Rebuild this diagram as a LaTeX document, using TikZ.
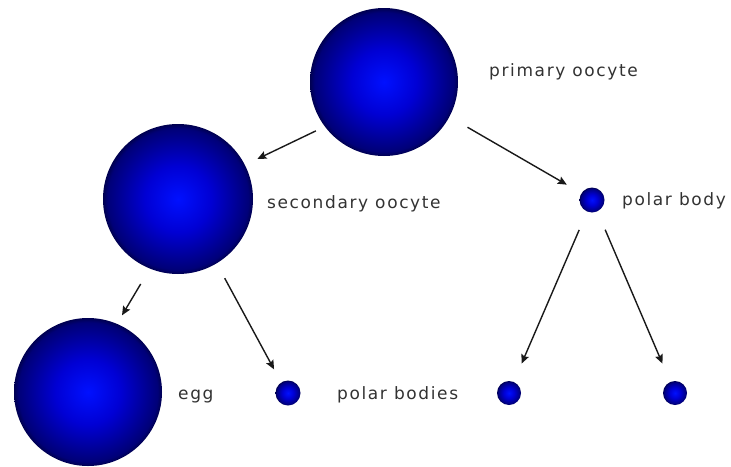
\documentclass[tikz,border=0pt]{standalone}
\usepackage{fontspec}
\setmainfont{DejaVu Sans}[LetterSpace=9.5]
\usetikzlibrary{arrows.meta}
\definecolor{ballA}{RGB}{0,16,255}
\definecolor{ballB}{RGB}{0,0,212}
\definecolor{ballC}{RGB}{0,0,120}
\definecolor{ballD}{RGB}{0,0,80}
\definecolor{txt}{RGB}{50,50,50}
\definecolor{arr}{RGB}{25,25,25}
\pgfdeclareradialshading{ballsh}{\pgfpoint{0bp}{0bp}}{color(0bp)=(ballA); color(11bp)=(ballB); color(23.5bp)=(ballC); color(25bp)=(ballD); color(50bp)=(ballD)}
\begin{document}
\begin{tikzpicture}[x=1pt,y=-1pt,
 ball/.style={circle, inner sep=0pt, outer sep=0pt, minimum size=#1pt, shading=ballsh},
 lbl/.style={anchor=base west, text=txt, font=\fontsize{17}{19}\selectfont, inner sep=0pt},
 conn/.style={draw=arr, line width=1.4pt, -{Stealth[length=9pt,width=8pt,inset=1.5pt]}}]
\useasboundingbox (0,0) rectangle (731,466);
\node[ball=148] (p) at (384,82) {};
\node[ball=150] (s) at (178,199) {};
\node[ball=148] (e) at (88,392) {};
\node[ball=25] (q) at (592,200) {};
\node[ball=25] (b1) at (288,393) {};
\node[ball=24] (b2) at (509,393) {};
\node[ball=24] (b3) at (675,393) {};
\node[lbl] (lp) at (489,76) {primary oocyte};
\node[lbl] (ls) at (267,208) {secondary oocyte};
\node[lbl] (lq) at (622,205) {polar body};
\node[lbl] (le) at (178,399) {egg};
\node[lbl] (lb) at (337,399) {polar bodies};
\draw[conn, shorten <=10pt, shorten >=14pt] (p.217) -- (s.27);
\draw[conn, shorten <=21pt, shorten >=17pt] (p.-28) -- (q.147);
\draw[conn, shorten <=18pt, shorten >=10pt] (s.248) -- (e.67);
\draw[conn, shorten <=17pt, shorten >=15pt] (s.-59) -- (b1.123);
\draw[conn, shorten <=20pt, shorten >=20pt] (q.247) -- (b2.67);
\draw[conn, shorten <=20pt, shorten >=20pt] (q.-65) -- (b3.113);
\end{tikzpicture}
\end{document}
